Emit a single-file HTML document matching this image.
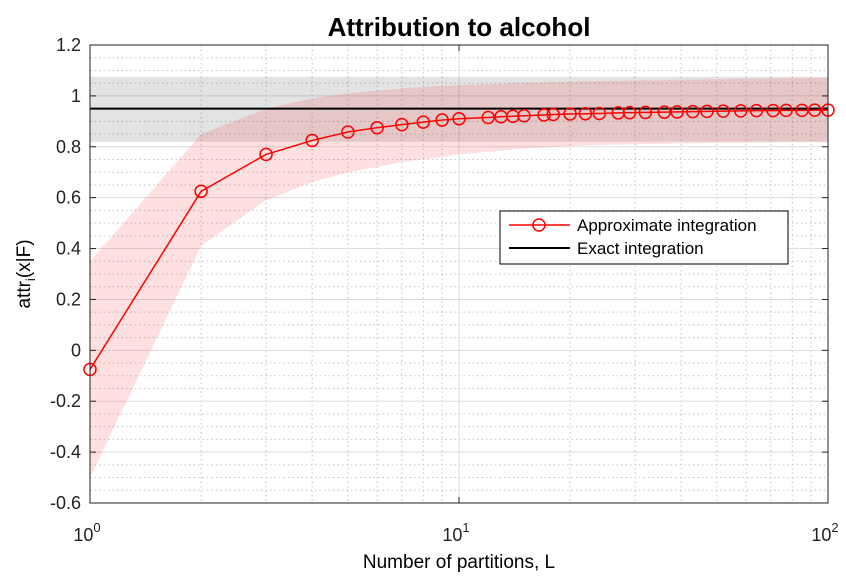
<!DOCTYPE html>
<html><head><meta charset="utf-8"><style>
body{margin:0;background:#fff;}
svg text{font-family:"Liberation Sans",Arial,sans-serif;}
</style></head><body>
<svg id="chart" width="846" height="573" xmlns="http://www.w3.org/2000/svg">
<g id="grid"></g>
<g id="bands"></g>
<g id="series"></g>
<g id="axes"></g>
<text x="459" y="36" text-anchor="middle" font-size="26" font-weight="bold">Attribution to alcohol</text>
<text x="459" y="568" text-anchor="middle" font-size="19">Number of partitions, L</text>
<text transform="translate(30,274) rotate(-90)" text-anchor="middle" font-size="19">attr<tspan font-size="13" dy="5">i</tspan><tspan dy="-5">(x|F)</tspan></text>
<g>
<rect x="500" y="211" width="288" height="53" fill="#fff" stroke="#000" stroke-width="1"/>
<line x1="509" y1="225" x2="570" y2="225" stroke="#f00" stroke-width="1.5"/>
<circle cx="539" cy="225" r="6" fill="none" stroke="#f00" stroke-width="1.5"/>
<text x="577" y="231" font-size="17">Approximate integration</text>
<line x1="509" y1="248" x2="570" y2="248" stroke="#000" stroke-width="2"/>
<text x="577" y="254" font-size="17">Exact integration</text>
</g>
</svg>
<script>
const Ls=[1,2,3,4,5,6,7,8,9,10,12,13,14,15,17,18,20,22,24,27,29,32,36,39,43,47,52,58,64,71,77,85,92,100];
const approx=[-0.075,0.625,0.77,0.825,0.858,0.875,0.887,0.897,0.905,0.91,0.915,0.918,0.92,0.922,0.925,0.927,0.929,0.93,0.931,0.933,0.934,0.935,0.936,0.937,0.938,0.939,0.94,0.941,0.942,0.942,0.943,0.943,0.944,0.944];
const lowerBand=[-0.5,0.41,0.59,0.66,0.7,0.72,0.74,0.75,0.76,0.77,0.78,0.785,0.79,0.793,0.797,0.8,0.802,0.805,0.807,0.809,0.81,0.811,0.812,0.813,0.814,0.815,0.816,0.816,0.817,0.817,0.818,0.818,0.818,0.818];
const upperBand=[0.35,0.85,0.95,0.99,1.01,1.02,1.03,1.035,1.04,1.042,1.046,1.048,1.05,1.051,1.053,1.054,1.056,1.057,1.058,1.059,1.06,1.061,1.062,1.063,1.064,1.065,1.066,1.067,1.068,1.069,1.07,1.07,1.071,1.071];
const exactVal=[0.95];
const exactBand=[0.82,1.075];
const yTicks=[-0.6,-0.4,-0.2,0,0.2,0.4,0.6,0.8,1,1.2];
const xTicks=[1,10,100];
const L=90,R=828,T=45,B=503;
const X=v=>L+(R-L)*Math.log10(v)/2;
const Y=v=>B-(v+0.6)/1.8*(B-T);
const NS='http://www.w3.org/2000/svg';
function mk(g,tag,a){const e=document.createElementNS(NS,tag);for(const k in a)e.setAttribute(k,a[k]);document.getElementById(g).appendChild(e);return e;}
for(let d=1;d<100;d*=10)for(let m=2;m<=9;m++){const e=mk('grid','line',{x1:X(d*m),x2:X(d*m),y1:T,y2:B,stroke:'#c4c4c4','stroke-dasharray':'1.5 3','stroke-width':1});
}
for(let i=0;i<36;i++){const v=-0.6+i*0.05;if(i%4===0)continue;const e=mk('grid','line',{x1:L,x2:R,y1:Y(v),y2:Y(v),stroke:'#c4c4c4','stroke-dasharray':'1.5 3','stroke-width':1});
}
yTicks.forEach(v=>{const e=mk('grid','line',{x1:L,x2:R,y1:Y(v),y2:Y(v),stroke:'#ddd','stroke-width':1});
});
xTicks.forEach(v=>{const e=mk('grid','line',{x1:X(v),x2:X(v),y1:T,y2:B,stroke:'#ddd','stroke-width':1});
});
let gb=mk('bands','rect',{x:L,y:Y(exactBand[1]),width:R-L,height:Y(exactBand[0])-Y(exactBand[1]),fill:'#000','fill-opacity':0.11});

let pts=Ls.map((l,i)=>X(l)+','+Y(upperBand[i])).concat(Ls.map((l,i)=>X(l)+','+Y(lowerBand[i])).reverse());
let rb=mk('bands','polygon',{points:pts.join(' '),fill:'#f00','fill-opacity':0.12});

let el=mk('series','line',{x1:L,x2:R,y1:Y(exactVal[0]),y2:Y(exactVal[0]),stroke:'#000','stroke-width':2});

let pl=mk('series','polyline',{points:Ls.map((l,i)=>X(l)+','+Y(approx[i])).join(' '),fill:'none',stroke:'#f00','stroke-width':1.5});

Ls.forEach((l,i)=>{const c=mk('series','circle',{cx:X(l),cy:Y(approx[i]),r:6,fill:'none',stroke:'#f00','stroke-width':1.5});
});
let fr=mk('axes','rect',{x:L,y:T,width:R-L,height:B-T,fill:'none',stroke:'#222','stroke-width':1});

yTicks.forEach(v=>{mk('axes','line',{x1:L,x2:L+6,y1:Y(v),y2:Y(v),stroke:'#222'});mk('axes','line',{x1:R-6,x2:R,y1:Y(v),y2:Y(v),stroke:'#222'});
const t=mk('axes','text',{x:L-9,y:Y(v)+6,'text-anchor':'end','font-size':18,fill:'#222'});t.textContent=String(v);
});
xTicks.forEach((v,i)=>{mk('axes','line',{x1:X(v),x2:X(v),y1:B-6,y2:B,stroke:'#222'});mk('axes','line',{x1:X(v),x2:X(v),y1:T,y2:T+6,stroke:'#222'});
const t=mk('axes','text',{x:X(v)-3,y:B+38,'text-anchor':'middle','font-size':18,fill:'#222'});
t.innerHTML='10<tspan font-size="13" dy="-9">'+i+'</tspan>';
});
</script>
</body></html>
